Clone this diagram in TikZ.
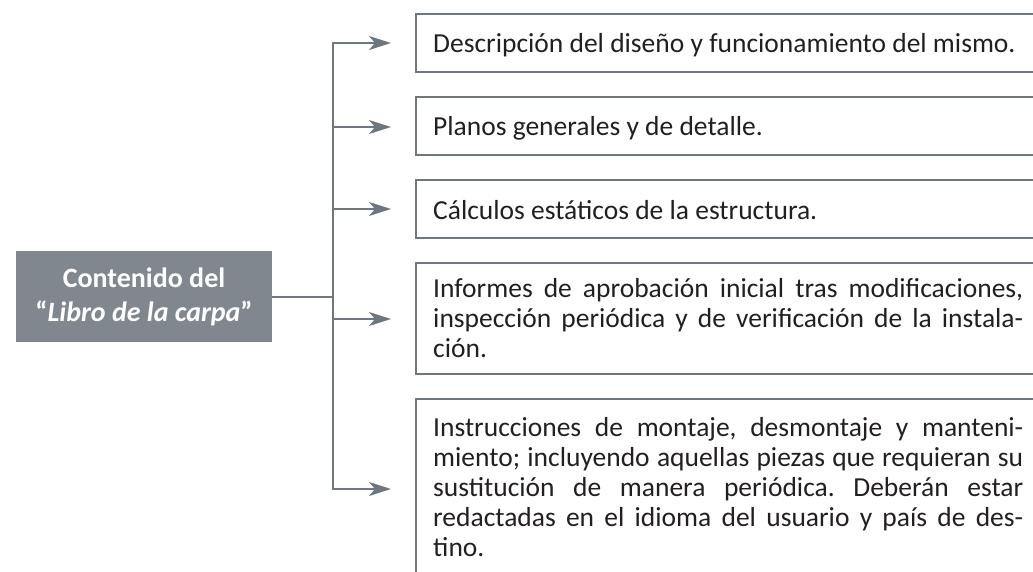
\documentclass[tikz,border=0pt]{standalone}
\usepackage{fontspec}
\setmainfont{Carlito}
\usetikzlibrary{arrows.meta}
\definecolor{linec}{HTML}{6D777F}
\definecolor{boxfill}{HTML}{80878E}
\definecolor{txt}{HTML}{231F20}
\begin{document}
\begin{tikzpicture}[x=1pt,y=-1pt,
  conn/.style={draw=linec, line width=2pt, line join=miter},
  arr/.style={conn, -{Stealth[length=22pt,width=14pt,inset=6pt]}},
  frame/.style={draw=linec, line width=2pt, line join=miter},
  line1/.style={anchor=base west, inner sep=0pt, font=\fontsize{27.5}{30}\selectfont, text=txt},
  item/.style={line1, text width=590pt, align=justify,
    execute at begin node={\frenchspacing\hyphenpenalty=10000 \tolerance=9999 }},
  title/.style={fill=boxfill, text=white, font=\fontsize{28}{34}\selectfont\bfseries,
    align=center, minimum width=256pt, minimum height=91pt, inner sep=0pt}]
\useasboundingbox (0,0) rectangle (1033,572);
\clip (0,0) rectangle (1033,572);

% title box
\node[title] (g) at (144,296.5) {Contenido del\\“\textit{Libro de la carpa}”};

% frames
\draw[frame] (1040,14) -- (416,14) -- (416,72) -- (1040,72);
\draw[frame] (1040,97) -- (416,97) -- (416,155) -- (1040,155);
\draw[frame] (1040,180) -- (416,180) -- (416,238) -- (1040,238);
\draw[frame] (1040,263) -- (416,263) -- (416,374) -- (1040,374);
\draw[frame] (1040,399) -- (416,399) -- (416,580);

% texts
\node[line1] (t1) at (433,53) {Descripción del diseño y funcionamiento del mismo.};
\node[line1] (t2) at (433,136) {Planos generales y de detalle.};
\node[line1] (t3) at (433,219) {Cálculos estáticos de la estructura.};
\node[item] (t4) at (433,297) {Informes de aprobación inicial tras modificaciones,\linebreak inspección periódica y de verificación de la instala-\linebreak ción.};
\node[item] (t5) at (433,436) {Instrucciones de montaje, desmontaje y manteni-\linebreak miento; incluyendo aquellas piezas que requieran su\linebreak sustitución de manera periódica. Deberán estar\linebreak redactadas en el idioma del usuario y país de des-\linebreak tino.};

% connector coordinates
\coordinate (hub) at (333,296.5);
\coordinate (v1) at (333,43);
\coordinate (v2) at (333,127);
\coordinate (v3) at (333,209);
\coordinate (v4) at (333,319);
\coordinate (v5) at (333,489);
\coordinate (p1) at (391,43);
\coordinate (p2) at (391,127);
\coordinate (p3) at (391,209);
\coordinate (p4) at (391,319);
\coordinate (p5) at (391,489);

\draw[conn] (g.east) -- (hub);
\draw[conn, {Stealth[length=22pt,width=14pt,inset=6pt]}-{Stealth[length=22pt,width=14pt,inset=6pt]}] (p1) -- (v1) -- (v5) -- (p5);
\draw[arr] (v2) -- (p2);
\draw[arr] (v3) -- (p3);
\draw[arr] (v4) -- (p4);
\end{tikzpicture}
\end{document}
